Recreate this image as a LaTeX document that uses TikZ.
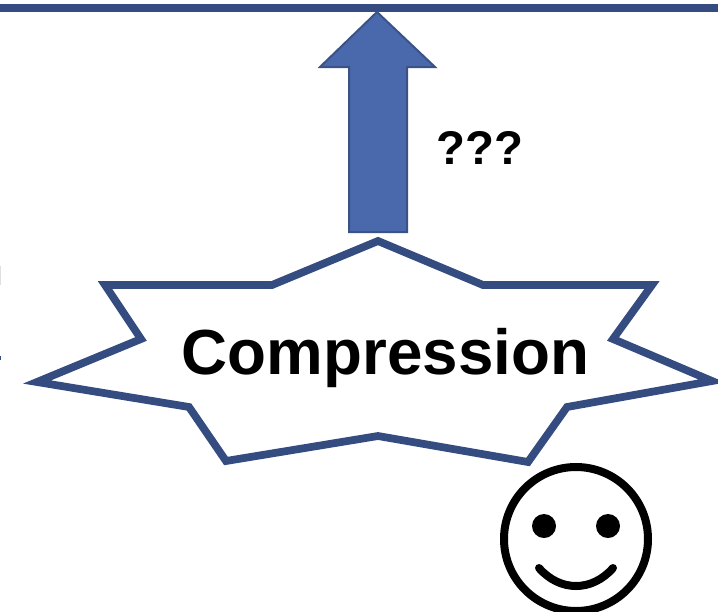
\documentclass[tikz,border=0pt]{standalone}
\usepackage{fontspec}
\setmainfont{Liberation Sans}
\definecolor{navy}{HTML}{344C80}
\definecolor{arrowfill}{HTML}{4A69AC}
\definecolor{arrowline}{HTML}{3A5286}
\tikzset{
  starline/.style={draw=navy,line width=5.8pt,fill=white,miter limit=10,line join=miter},
  facestroke/.style={draw=black,line width=6pt},
  label/.style={inner sep=0pt,font=\bfseries},
}
\begin{document}
\begin{tikzpicture}[x=0.75pt,y=-0.75pt]
\useasboundingbox (0,0) rectangle (718,611);
\fill[white] (0,0) rectangle (718,611);
% top bar
\fill[navy] (0,3.5) rectangle (718,12);
% arrow
\draw[fill=arrowfill,draw=arrowline,line width=1.5pt,line join=miter]
  (377,12) -- (435,67) -- (407,67) -- (407,232) -- (349,232) -- (349,67) -- (320,67) -- cycle;
% star
\begin{scope}
\clip (0,0) rectangle (718,611);
\draw[starline] (378,241) -- (483,285) -- (652,285) -- (613,339) -- (712,381) -- (567,407)
  -- (528,462) -- (378,436) -- (226,461) -- (189,407) -- (37,382) -- (141,339)
  -- (105,285) -- (272,285) -- cycle;
\end{scope}
\node[label,font=\bfseries\fontsize{47.8pt}{50pt}\selectfont,anchor=center] (comp) at (385.5,358) {Compression};
\node[label,font=\bfseries\fontsize{35.5pt}{38pt}\selectfont,anchor=center] (qq) at (480,148) {???};
% smiley
\begin{scope}
\clip (0,0) rectangle (718,611);
\draw[facestroke] (576,539) circle [radius=72];
\fill (544,526) circle [radius=12];
\fill (608,526) circle [radius=12];
\draw[facestroke,line cap=round] (539,568) .. controls (560,592) and (592,592) .. (613,568);
\end{scope}
% stray marks at left edge
\fill[gray!25] (0,266) rectangle (1.5,285);
\fill[navy] (0,356) rectangle (1.5,360);
\end{tikzpicture}
\end{document}
